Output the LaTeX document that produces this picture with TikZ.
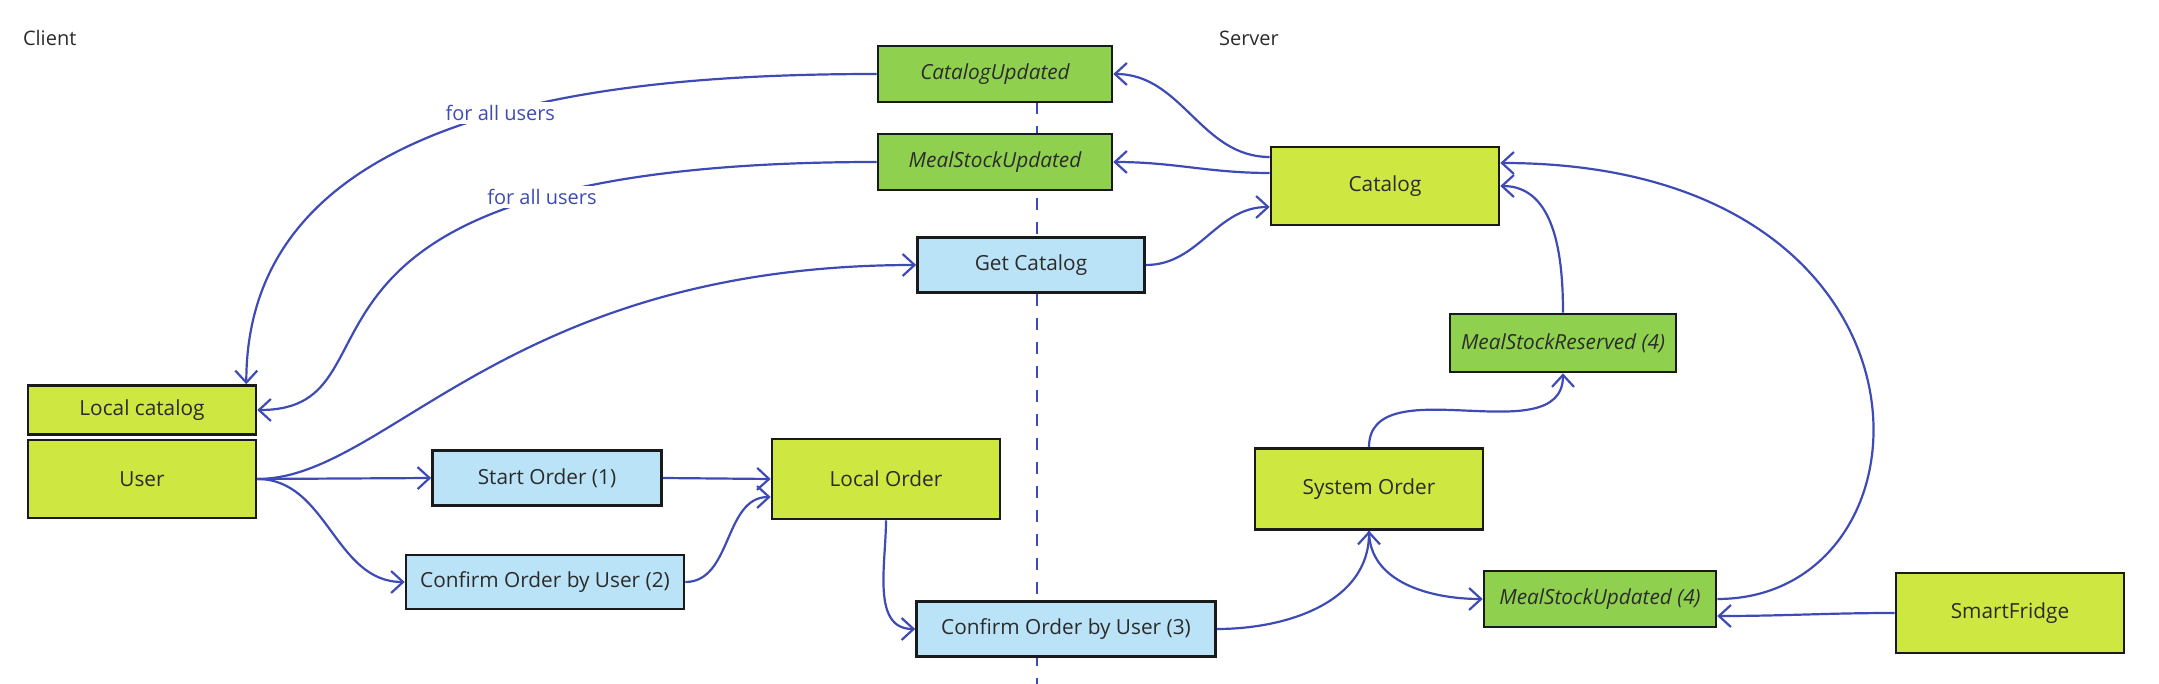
\documentclass[tikz,border=0pt]{standalone}
\usepackage{fontspec}
\setmainfont{Open Sans}
\usetikzlibrary{arrows.meta}

\definecolor{boxlime}{HTML}{CFE741}
\definecolor{boxgreen}{HTML}{8FD14F}
\definecolor{boxblue}{HTML}{BBE3F8}
\definecolor{linkblue}{HTML}{3F4BB5}
\definecolor{boxline}{HTML}{1A1A1A}
\definecolor{textdark}{HTML}{2B2B2B}

\begin{document}
\begin{tikzpicture}[x=0.5pt,y=-0.5pt,
  box/.style={draw=boxline,line width=1.3pt,inner sep=0pt,text=textdark,
    font=\fontsize{10.4}{12}\selectfont},
  entity/.style={box,fill=boxlime,minimum width=114pt,minimum height=40pt},
  event/.style={box,fill=boxgreen,minimum width=117pt,minimum height=28pt,
    font=\fontsize{10.4}{12}\selectfont\itshape},
  command/.style={box,fill=boxblue,minimum height=27.5pt},
  link/.style={draw=linkblue,line width=1.1pt,-{Straight Barb[length=6pt,width=11pt]}},
  side/.style={anchor=west,text=textdark,font=\fontsize{10}{12}\selectfont},
  note/.style={fill=white,inner sep=1.5pt,text=linkblue,font=\fontsize{10}{12}\selectfont}]
\useasboundingbox (0,0) rectangle (2159,684);

\coordinate (linetop) at (1037,102);
\coordinate (linebottom) at (1037,684);
\draw[linkblue,line width=1.1pt,dash pattern=on 6pt off 6pt] (linetop) -- (linebottom);

\node[side] (client) at (16,38) {Client};
\node[side] (server) at (1212,38) {Server};

\node[event] (catupd) at (995,74) {CatalogUpdated};
\node[event] (stockupd) at (995,162) {MealStockUpdated};
\node[command,minimum width=113.5pt] (getcat) at (1031,265) {Get Catalog};
\node[entity,minimum height=39pt] (catalog) at (1385,186) {Catalog};
\node[event,minimum width=113pt,minimum height=29pt] (stockres) at (1563,343) {MealStockReserved (4)};
\node[entity,minimum height=24.5pt] (localcat) at (142,410) {Local catalog};
\node[entity,minimum height=39pt] (user) at (142,479) {User};
\node[command,minimum width=114.5pt] (startord) at (547,478) {Start Order (1)};
\node[entity] (localord) at (886,479) {Local Order};
\node[command,minimum width=139pt,minimum height=27pt] (conf2) at (545,582) {Confirm Order by User (2)};
\node[command,minimum width=149.5pt] (conf3) at (1066,629) {Confirm Order by User (3)};
\node[entity,minimum height=40.5pt] (sysord) at (1369,489) {System Order};
\node[event,minimum width=116pt] (stockupd4) at (1600,599) {MealStockUpdated (4)};
\node[entity] (fridge) at (2010,613) {SmartFridge};

\draw[link] (catupd.west) to[out=180,in=90] node[note,pos=0.445] {for all users} ([xshift=-5.5pt]localcat.north east);
\draw[link] (stockupd.west) .. controls +(-649,0) and +(162,0) .. node[note,pos=0.236] {for all users} (localcat.east);
\draw[link] (user.east) .. controls +(130,0) and +(-410,0) .. (getcat.west);
\draw[link] (user.east) -- (startord.west);
\draw[link] (user.east) to[out=0,in=180] (conf2.west);
\draw[link] (startord.east) -- (localord.west);
\draw[link] (conf2.east) to[out=0,in=180] ([yshift=-9pt]localord.west);
\draw[link] (localord.south) to[out=-90,in=180] (conf3.west);
\draw[link] (conf3.east) to[out=0,in=-90] (sysord.south);
\draw[link] (sysord.south) to[out=-90,in=180] (stockupd4.west);
\draw[link] (sysord.north) to[out=90,in=-90] (stockres.south);
\draw[link] (stockres.north) to[out=90,in=0] (catalog.east);
\draw[link] (stockupd4.east) .. controls +(230,0) and +(460,0) .. ([yshift=11.5pt]catalog.east);
\draw[link] (fridge.west) to[out=180,in=0] ([yshift=-8.5pt]stockupd4.east);
\draw[link] (getcat.east) to[out=0,in=180] ([yshift=-10.5pt]catalog.west);
\draw[link] ([yshift=14.5pt]catalog.west) to[out=180,in=0] (catupd.east);
\draw[link] ([yshift=6.5pt]catalog.west) to[out=180,in=0] (stockupd.east);
\end{tikzpicture}
\end{document}
